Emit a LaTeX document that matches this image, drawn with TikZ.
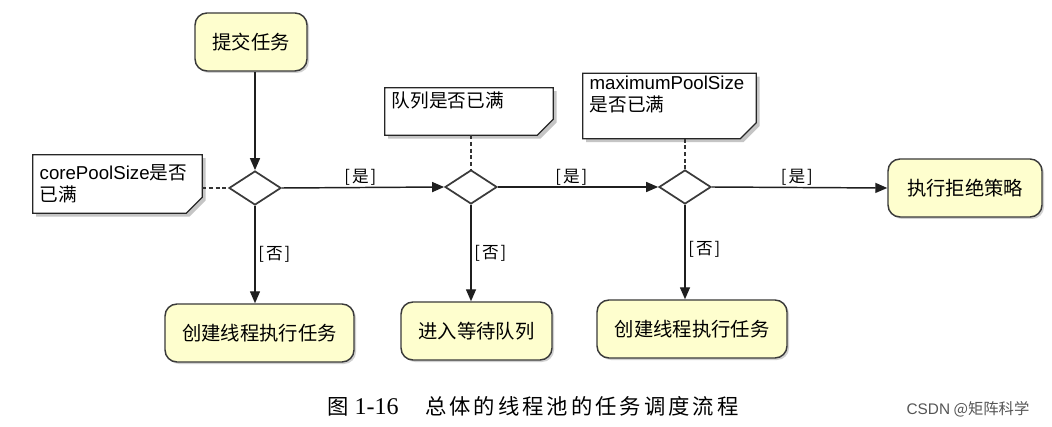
\documentclass[tikz,border=0pt]{standalone}
\usepackage{fontspec}
\setmainfont{Noto Sans CJK SC}
\newfontfamily\latf{Liberation Sans}
\newfontfamily\serf{Liberation Serif}
\newfontfamily\capfont[LetterSpace=14]{Noto Sans CJK SC}
\usetikzlibrary{shapes.geometric,arrows.meta,shadows,backgrounds}
\definecolor{boxfill}{HTML}{FEFECE}
\definecolor{boxdraw}{HTML}{3A3A3A}
\definecolor{wmgray}{HTML}{555555}
\tikzset{
  action/.style={rectangle, rounded corners=9pt, fill=boxfill, draw=boxdraw, line width=1.1pt,
    font=\fontsize{14.5}{17}\selectfont, inner sep=0pt,
    drop shadow={shadow xshift=1.5pt, shadow yshift=-1.5pt, fill=black, opacity=0.18}},
  decision/.style={diamond, draw=boxdraw, line width=1.3pt, fill=white,
    minimum width=39pt, minimum height=25.5pt, inner sep=0pt},
  notetext/.style={rectangle, inner xsep=5pt, inner ysep=0pt, align=left,
    font=\fontsize{14}{16.5}\selectfont},
  notedraw/.style={draw=black!85, line width=1pt, fill=white,
    drop shadow={shadow xshift=2.5pt, shadow yshift=-2.5pt, fill=black!45}},
  flow/.style={draw=black!88, line width=1.1pt, -{Triangle[length=9pt,width=7.5pt]}},
  notelink/.style={draw=black!80, line width=1.1pt, dash pattern=on 3pt off 2pt},
  lbl/.style={font=\fontsize{12.5}{14}\selectfont, inner sep=1pt},
}
\newcommand\mynote[1]{%
  \draw[notedraw] (#1.north west) -- (#1.north east) -- ([yshift=12pt]#1.south east)
    -- ([xshift=-12pt]#1.south east) -- (#1.south west) -- cycle;}
\newcommand\brk[1]{[\kern1.5pt#1\kern1.5pt]}
\begin{document}
\begin{tikzpicture}[x=0.75pt,y=-0.75pt]
\useasboundingbox (0,0) rectangle (1052,427);

% action boxes
\node[action, minimum width=84pt, minimum height=43.5pt] (submit) at (251,42) {提交任务};
\node[action, minimum width=115.5pt, minimum height=43.5pt] (reject) at (965,188) {执行拒绝策略};
\node[action, minimum width=141.75pt, minimum height=43.5pt] (coreA) at (259.5,333) {创建线程执行任务};
\node[action, minimum width=113.25pt, minimum height=43.5pt] (queue) at (476.5,331) {进入等待队列};
\node[action, minimum width=142.5pt, minimum height=43.5pt] (coreB) at (692,329) {创建线程执行任务};

% decisions
\node[decision] (d1) at (255,188) {};
\node[decision] (d2) at (471,187) {};
\node[decision] (d3) at (685,187) {};

% notes
\node[notetext, text width=116.75pt, minimum height=43.5pt] (n1) at (117.5,184)
  {{\latf corePoolSize}是否\\已满};
\node[notetext, text width=116pt, minimum height=35.25pt] (n2) at (469,111.5)
  {队列是否已满\\[2pt]\mbox{}};
\node[notetext, text width=119.75pt, minimum height=48.75pt] (n3) at (669.5,106)
  {{\latf maximumPoolSize}\\是否已满\\[2pt]\mbox{}};

\begin{scope}[on background layer]
  \fill[white] (0,0) rectangle (1052,427);
  \mynote{n1}
  \mynote{n2}
  \mynote{n3}
\end{scope}

% note links
\draw[notelink] (n1.east |- d1.west) -- (d1.west);
\draw[notelink] (n2.south -| d2.north) -- (d2.north);
\draw[notelink] (n3.south -| d3.north) -- (d3.north);

% flows
\draw[flow] (submit.south -| d1.north) -- (d1.north);
\draw[flow] (d1.east) -- node[lbl, above, xshift=-2pt] {\brk{是}} (d2.west);
\draw[flow] (d2.east) -- node[lbl, above, xshift=-5pt] {\brk{是}} (d3.west);
\draw[flow] (d3.east) -- node[lbl, above, xshift=-2pt] {\brk{是}} (reject.west);
\draw[flow] (d1.south) -- node[lbl, right, xshift=1pt] {\brk{否}} (d1.south |- coreA.north);
\draw[flow] (d2.south) -- node[lbl, right, xshift=1pt] {\brk{否}} (d2.south |- queue.north);
\draw[flow] (d3.south) -- node[lbl, right, xshift=1pt, yshift=2pt] {\brk{否}} (d3.south |- coreB.north);

% caption
\node[anchor=west, inner sep=0pt] (cap) at (327,406)
  {\fontsize{16}{19}\selectfont\capfont 图\hspace{4.5pt}{\serf\fontsize{18}{19}\selectfont 1-16}\hspace{20pt}总体的线程池的任务调度流程};
\node[font=\fontsize{11.5}{14}\selectfont, text=wmgray, inner sep=0pt] (wm) at (968,409)
  {{\latf CSDN} @矩阵科学};
\end{tikzpicture}
\end{document}
